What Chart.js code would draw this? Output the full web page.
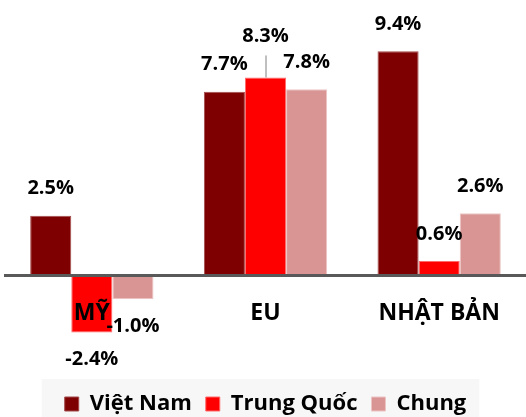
<!DOCTYPE html>
<html>
<head>
<meta charset="utf-8">
<script src="https://cdn.jsdelivr.net/npm/chart.js@4.4.0/dist/chart.umd.min.js"></script>
<style>
  html, body { margin: 0; padding: 0; background: #fff; }
  #wrap { width: 526px; height: 417px; position: relative; }
</style>
</head>
<body>
<div id="wrap"><canvas id="chart"></canvas></div>
<script>
// số liệu (%)
const categories = ['MỸ', 'EU', 'NHẬT BẢN'];
const seriesNames = ['Việt Nam', 'Trung Quốc', 'Chung'];
const vietNam = [2.5, 7.7, 9.4];
const trungQuoc = [-2.4, 8.3, 0.6];
const chung = [-1.0, 7.8, 2.6];

const FONT = '"Open Sans", sans-serif';

// nhãn giá trị trên / dưới mỗi cột
const valueLabels = {
    id: 'valueLabels',
    afterDatasetsDraw(chart, args, opts) {
        const ctx = chart.ctx;
        ctx.save();
        ctx.font = 'bold 20px ' + FONT;
        ctx.fillStyle = '#000';
        ctx.textAlign = 'center';
        ctx.textBaseline = 'middle';
        chart.data.datasets.forEach((ds, di) => {
            chart.getDatasetMeta(di).data.forEach((bar, i) => {
                const v = ds.data[i];
                let y = v >= 0 ? bar.y - opts.offset : bar.y + opts.offset;
                const leader = opts.leaders.find(l => l.dataset === di && l.index === i);
                if (leader) {
                    // nhãn bị đẩy lên, có đường dẫn
                    ctx.strokeStyle = '#808080';
                    ctx.lineWidth = 1;
                    ctx.beginPath();
                    ctx.moveTo(bar.x + 0.5, bar.y);
                    ctx.lineTo(bar.x + 0.5, bar.y - leader.line);
                    ctx.stroke();
                    y -= leader.lift;
                }
                ctx.fillText(v.toFixed(1) + '%', bar.x, y);
            });
        });
        ctx.restore();
    }
};

// nền xám nhạt sau chú thích
const legendBg = {
    id: 'legendBg',
    beforeDraw(chart) {
        const lg = chart.legend;
        if (!lg || !lg.legendHitBoxes.length) return;
        const boxes = lg.legendHitBoxes;
        const left = Math.min(...boxes.map(b => b.left)) - 23;
        const right = Math.max(...boxes.map(b => b.left + b.width)) + 13;
        const ctx = chart.ctx;
        ctx.save();
        ctx.fillStyle = '#f7f7f7';
        ctx.fillRect(left, 379, right - left, chart.height - 379);
        ctx.restore();
    }
};

new Chart(document.getElementById('chart'), {
    type: 'bar',
    data: {
        labels: categories,
        datasets: [
            { label: seriesNames[0], data: vietNam, backgroundColor: '#7f0000', borderColor: '#a34a4a', borderWidth: 1 },
            { label: seriesNames[1], data: trungQuoc, backgroundColor: '#ff0000', borderColor: '#ff6a6a', borderWidth: 1 },
            { label: seriesNames[2], data: chung, backgroundColor: '#d99594', borderColor: '#ecc4c4', borderWidth: 1 }
        ]
    },
    options: {
        responsive: true,
        maintainAspectRatio: false,
        animation: false,
        datasets: {
            bar: { categoryPercentage: 0.71, barPercentage: 1.0 }
        },
        layout: { padding: { left: 5, right: 0, top: 25, bottom: -8 } },
        scales: {
            x: {
                position: { y: 0 },
                grid: { display: false, drawTicks: false },
                border: { display: true, color: '#595959', width: 3, z: 1 },
                ticks: {
                    z: 1,
                    color: '#000',
                    padding: 24,
                    autoSkip: false,
                    maxRotation: 0,
                    font: { family: FONT, size: 23, weight: 'bold' }
                },
                afterFit(scale) { scale.height = 0; }
            },
            y: {
                display: false,
                min: -4.35,
                max: 10.5
            }
        },
        plugins: {
            legend: {
                position: 'bottom',
                labels: {
                    color: '#000',
                    boxWidth: 14,
                    boxHeight: 14,
                    padding: 14,
                    font: { family: FONT, size: 22, weight: 'bold' }
                }
            },
            tooltip: { enabled: false },
            valueLabels: {
                offset: 27,
                leaders: [{ dataset: 1, index: 1, lift: 14, line: 22 }]
            }
        }
    },
    plugins: [legendBg, valueLabels]
});
</script>
</body>
</html>
